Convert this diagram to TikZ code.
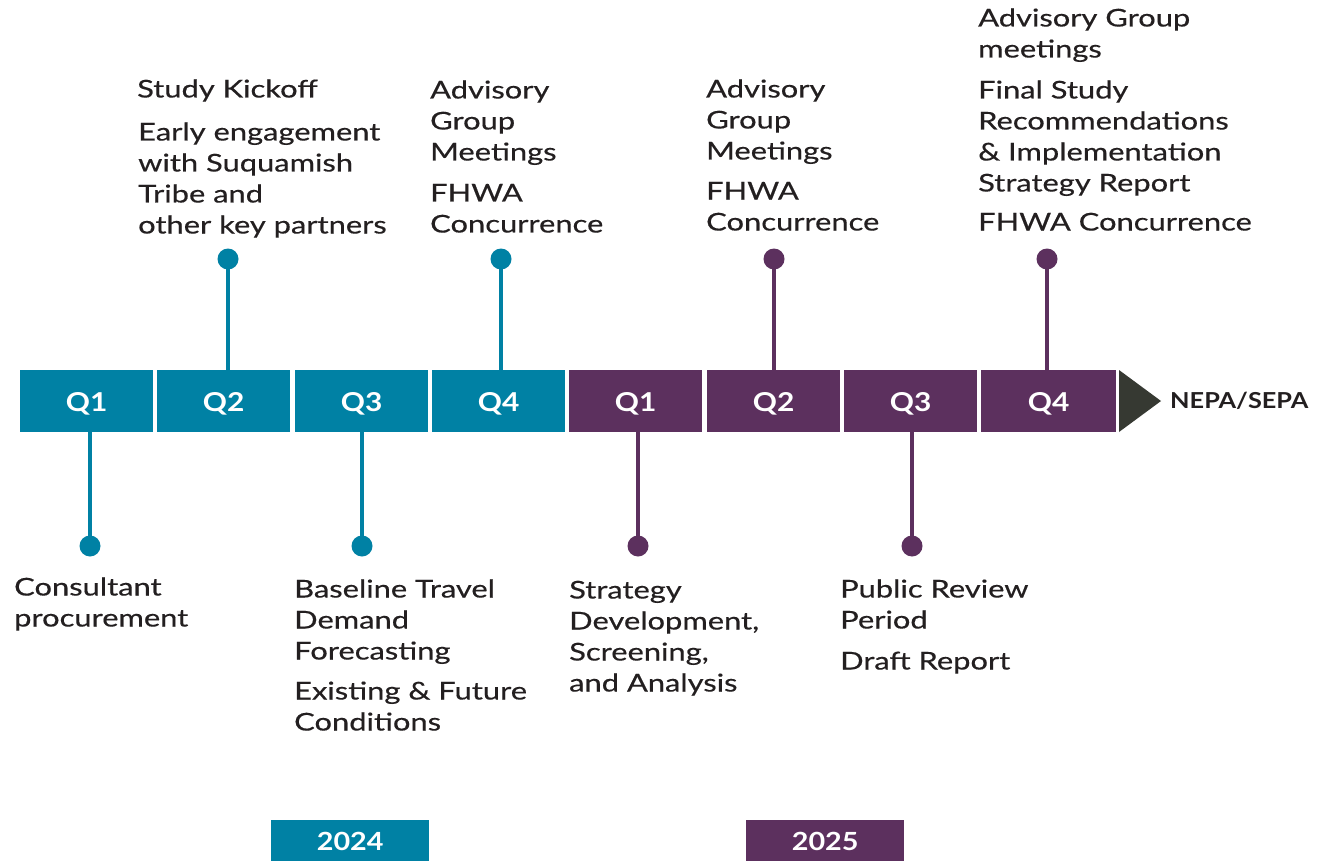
\documentclass[tikz,border=0pt]{standalone}
\usepackage{fontspec}
\setmainfont{Lato}[FakeStretch=1.26, FakeBold=0.4]
\newfontfamily\qfont{Lato}[FakeStretch=1.15]
\definecolor{tealc}{RGB}{0,129,164}
\definecolor{plumc}{RGB}{92,48,94}
\definecolor{arrowc}{RGB}{54,57,50}
\definecolor{textc}{RGB}{35,31,32}
\tikzset{
  qbox/.style={rectangle, anchor=north west, minimum width=133pt, minimum height=62pt, inner sep=0pt, text height=21pt, text depth=0pt, text=white, font=\qfont\bfseries\fontsize{26}{26}\selectfont},
  dotc/.style={circle, minimum size=21pt, inner sep=0pt},
  stem/.style={line width=4pt},
  lbl/.style={anchor=base west, align=left, inner sep=0pt, text=textc, font=\fontsize{24.5}{31}\selectfont},
  yearbox/.style={rectangle, anchor=north west, minimum width=158pt, minimum height=41pt, inner sep=0pt, text height=19pt, text depth=0pt, text=white, font=\qfont\bfseries\fontsize{25}{25}\selectfont},
}
\begin{document}
\begin{tikzpicture}[x=1pt,y=-1pt]
\useasboundingbox (0,0) rectangle (1317,861);
\fill[white] (0,0) rectangle (1317,861);
% bar
\node[qbox, fill=tealc] (t1) at (20,370) {Q1};
\node[qbox, fill=tealc] (t2) at (157,370) {Q2};
\node[qbox, fill=tealc] (t3) at (295,370) {Q3};
\node[qbox, fill=tealc] (t4) at (432,370) {Q4};
\node[qbox, fill=plumc] (p1) at (569,370) {Q1};
\node[qbox, fill=plumc] (p2) at (707,370) {Q2};
\node[qbox, fill=plumc] (p3) at (844,370) {Q3};
\node[qbox, fill=plumc, minimum width=135pt] (p4) at (981,370) {Q4};
\fill[arrowc] (1119,370) -- (1119,432) -- (1161,401) -- cycle;
\node[anchor=base west, inner sep=0pt, text=textc, font=\qfont\bfseries\fontsize{22}{22}\selectfont] (nepa) at (1170,408.5) {NEPA/SEPA};
% top stems
\node[dotc, fill=tealc] (dt2) at (228,259) {};
\draw[stem, tealc] (dt2.center) -- (dt2.center |- t2.north);
\node[dotc, fill=tealc] (dt4) at (501,259) {};
\draw[stem, tealc] (dt4.center) -- (dt4.center |- t4.north);
\node[dotc, fill=plumc] (dp2) at (774,259) {};
\draw[stem, plumc] (dp2.center) -- (dp2.center |- p2.north);
\node[dotc, fill=plumc] (dp4) at (1047,259) {};
\draw[stem, plumc] (dp4.center) -- (dp4.center |- p4.north);
% bottom stems
\node[dotc, fill=tealc] (dt1) at (90,546) {};
\draw[stem, tealc] (dt1.center) -- (dt1.center |- t1.south);
\node[dotc, fill=tealc] (dt3) at (362,546) {};
\draw[stem, tealc] (dt3.center) -- (dt3.center |- t3.south);
\node[dotc, fill=plumc] (dp1) at (638,546) {};
\draw[stem, plumc] (dp1.center) -- (dp1.center |- p1.south);
\node[dotc, fill=plumc] (dp3) at (912,546) {};
\draw[stem, plumc] (dp3.center) -- (dp3.center |- p3.south);
% top labels (anchor = baseline of last line)
\node[lbl] (a1) at (137,97.5) {Study Kickoff};
\node[lbl] (a2) at (138,233.5) {Early engagement\\with Suquamish\\Tribe and\\other key partners};
\node[lbl] (b1) at (430,160.5) {Advisory\\Group\\Meetings};
\node[lbl] (b2) at (430,232.5) {FHWA\\Concurrence};
\node[lbl] (c1) at (706,159.5) {Advisory\\Group\\Meetings};
\node[lbl] (c2) at (706,230.5) {FHWA\\Concurrence};
\node[lbl] (e1) at (978,57.5) {Advisory Group\\meetings};
\node[lbl] (e2) at (978,191.5) {Final Study\\Recommendations\\\& Implementation\\Strategy Report};
\node[lbl] (e3) at (978,230.5) {FHWA Concurrence};
% bottom labels
\node[lbl] (f1) at (14,626.5) {Consultant\\procurement};
\node[lbl] (g1) at (294,659.5) {Baseline Travel\\Demand\\Forecasting};
\node[lbl] (g2) at (294,730.5) {Existing \& Future\\Conditions};
\node[lbl] (h1) at (569,691.5) {Strategy\\Development,\\Screening,\\and Analysis};
\node[lbl] (k1) at (840,628.5) {Public Review\\Period};
\node[lbl] (k2) at (840,669.5) {Draft Report};
% years
\node[yearbox, fill=tealc] (y24) at (271,820) {2024};
\node[yearbox, fill=plumc] (y25) at (746,820) {2025};
\end{tikzpicture}
\end{document}
